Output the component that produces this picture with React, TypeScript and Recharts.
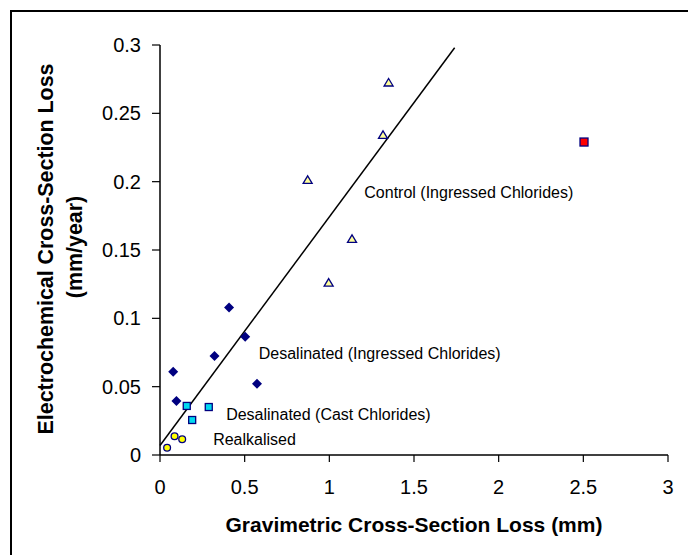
import React from "react";
import {
  ScatterChart,
  Scatter,
  XAxis,
  YAxis,
  ReferenceLine,
  ReferenceDot,
  Label,
} from "recharts";

// values (x: mm, y: mm/year)
const realkalised = [
  { x: 0.042, y: 0.0053 },
  { x: 0.086, y: 0.0137 },
  { x: 0.131, y: 0.0115 },
];

const desalCast = [
  { x: 0.158, y: 0.0359 },
  { x: 0.19, y: 0.0256 },
  { x: 0.288, y: 0.0351 },
];

const desalIngressed = [
  { x: 0.408, y: 0.108 },
  { x: 0.503, y: 0.0866 },
  { x: 0.322, y: 0.0724 },
  { x: 0.078, y: 0.061 },
  { x: 0.097, y: 0.0395 },
  { x: 0.573, y: 0.0522 },
];

const control = [
  { x: 1.35, y: 0.2724 },
  { x: 1.317, y: 0.2341 },
  { x: 0.872, y: 0.2012 },
  { x: 1.134, y: 0.158 },
  { x: 0.996, y: 0.126 },
];

const outlier = [{ x: 2.504, y: 0.229 }];

const fitLine = [
  { x: 0, y: 0.007 },
  { x: 1.74, y: 0.298 },
];

const xTicks = [0, 0.5, 1, 1.5, 2, 2.5, 3];
const yTicks = [0, 0.05, 0.1, 0.15, 0.2, 0.25, 0.3];

const notes = [
  { x: 1.2065, y: 0.1924, text: "Control (Ingressed Chlorides)" },
  { x: 0.583, y: 0.0744, text: "Desalinated (Ingressed Chlorides)" },
  { x: 0.3906, y: 0.03, text: "Desalinated (Cast Chlorides)" },
  { x: 0.314, y: 0.011, text: "Realkalised" },
];

const FONT = "'Liberation Sans', Arial, sans-serif";
const NAVY = "#000080";

const Circle = (p: any) => (
  <circle cx={p.cx} cy={p.cy} r={3.4} fill="#FFFF00" stroke={NAVY} strokeWidth={1.3} />
);

const Square = (fill: string, s: number) => (p: any) => (
  <rect
    x={p.cx - s / 2}
    y={p.cy - s / 2}
    width={s}
    height={s}
    fill={fill}
    stroke={NAVY}
    strokeWidth={1.3}
  />
);

const Diamond = (p: any) => {
  const r = 5;
  return (
    <polygon
      points={`${p.cx},${p.cy - r} ${p.cx + r},${p.cy} ${p.cx},${p.cy + r} ${p.cx - r},${p.cy}`}
      fill={NAVY}
    />
  );
};

const Triangle = (p: any) => (
  <polygon
    points={`${p.cx},${p.cy - 4.2} ${p.cx + 4.5},${p.cy + 3.3} ${p.cx - 4.5},${p.cy + 3.3}`}
    fill="#FFFF99"
    stroke={NAVY}
    strokeWidth={1.3}
  />
);

const noteShape = (text: string) => (p: any) => (
  <text
    x={p.cx}
    y={p.cy}
    dominantBaseline="central"
    fontFamily={FONT}
    fontSize={16}
    fill="#000"
  >
    {text}
  </text>
);

const YTitle = () => (
  <g fontFamily={FONT} fontSize={21.4} fontWeight="bold" fill="#000">
    <text x={53} y={249} textAnchor="middle" transform="rotate(-90 53 249)">
      Electrochemical Cross-Section Loss
    </text>
    <text x={82} y={247} textAnchor="middle" transform="rotate(-90 82 247)">
      (mm/year)
    </text>
  </g>
);

const XTitle = () => (
  <text
    x={414}
    y={532}
    textAnchor="middle"
    fontFamily={FONT}
    fontSize={21}
    fontWeight="bold"
    fill="#000"
  >
    Gravimetric Cross-Section Loss (mm)
  </text>
);

export default function App() {
  const tick = { fontFamily: FONT, fontSize: 20, fill: "#000" };
  return (
    <div
      style={{
        position: "absolute",
        left: 0,
        top: 0,
        width: 688,
        height: 555,
        overflow: "hidden",
        background: "#fff",
      }}
    >
      <div
        style={{
          position: "absolute",
          left: 10,
          top: 10,
          width: 800,
          height: 800,
          border: "2px solid #000",
        }}
      />
      <ScatterChart
        width={688}
        height={555}
        margin={{ top: 45, right: 20, bottom: 40, left: 0 }}
        style={{ position: "absolute", left: 0, top: 0 }}
      >
        <XAxis
          type="number"
          dataKey="x"
          domain={[0, 3]}
          ticks={xTicks}
          height={60}
          tick={tick}
          tickSize={7}
          tickMargin={18}
          axisLine={{ stroke: "#000", strokeWidth: 1.5 }}
          tickLine={{ stroke: "#000", strokeWidth: 1.2 }}
        >
          <Label content={<XTitle />} />
        </XAxis>
        <YAxis
          type="number"
          dataKey="y"
          domain={[0, 0.3]}
          ticks={yTicks}
          width={160}
          tick={tick}
          tickSize={8}
          tickMargin={11}
          axisLine={{ stroke: "#000", strokeWidth: 1.5 }}
          tickLine={{ stroke: "#000", strokeWidth: 1.2 }}
        >
          <Label content={<YTitle />} />
        </YAxis>
        <ReferenceLine
          segment={fitLine}
          stroke="#000"
          strokeWidth={1.5}
        />
        <Scatter data={control} shape={Triangle} isAnimationActive={false} />
        <Scatter data={desalIngressed} shape={Diamond} isAnimationActive={false} />
        <Scatter data={desalCast} shape={Square("#00D8F0", 7)} isAnimationActive={false} />
        <Scatter data={realkalised} shape={Circle} isAnimationActive={false} />
        <Scatter data={outlier} shape={Square("#FF0000", 8)} isAnimationActive={false} />
        {notes.map((n) => (
          <ReferenceDot key={n.text} x={n.x} y={n.y} r={0} shape={noteShape(n.text)} />
        ))}
      </ScatterChart>
    </div>
  );
}
